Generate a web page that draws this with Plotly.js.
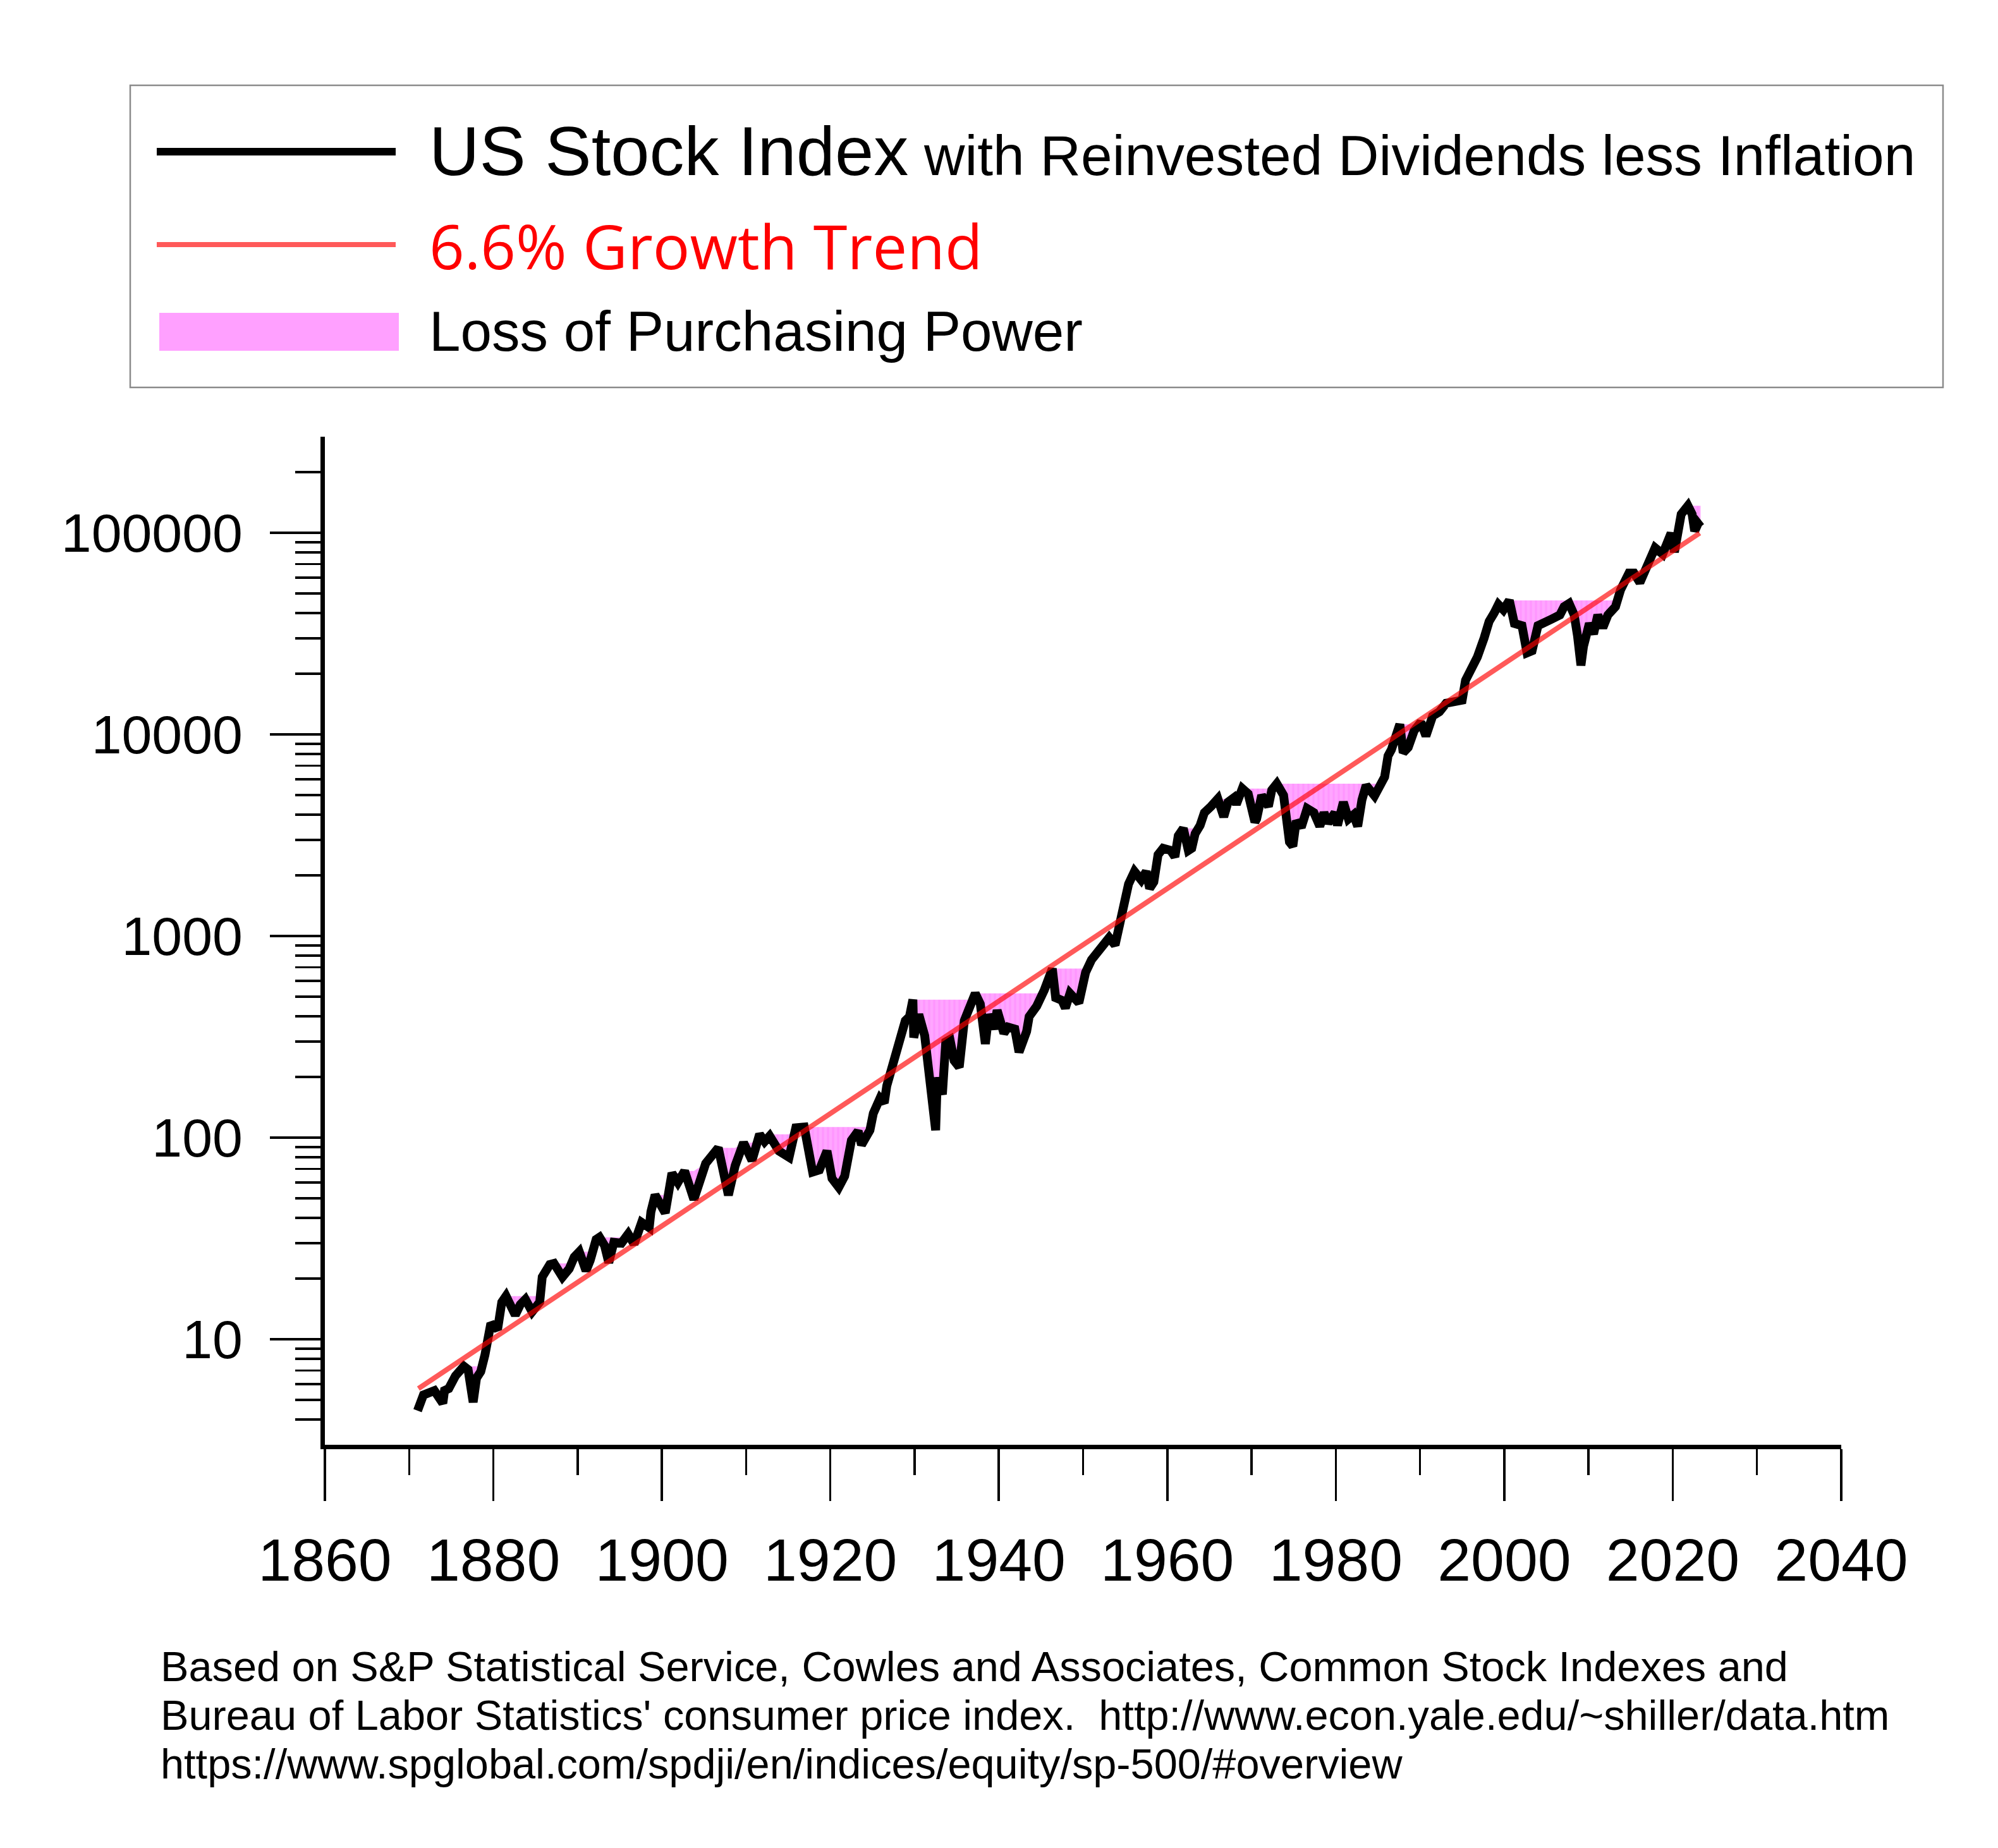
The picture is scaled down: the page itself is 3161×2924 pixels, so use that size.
<!DOCTYPE html>
<html>
<head>
<meta charset="utf-8">
<script src="https://cdn.plot.ly/plotly-3.0.1.min.js"></script>
<style>html,body{margin:0;padding:0;background:#ffffff;}</style>
</head>
<body>
<div id="chart" style="width:3161px;height:2924px;"></div>
<script>
// ---------------- DATA ----------------
const years = [
  1871.0,1871.5,1871.7,1873.0,1874.0,1874.2,1874.7,1875.5,1876.5,1877.0,1877.6,1878.0,1878.5,1879.0,1879.5,1879.7,
  1880.5,1881.0,1881.5,1882.6,1883.2,1883.8,1884.6,1885.5,1885.8,1886.7,1887.2,1888.2,1889.0,1889.6,1890.2,1891.0,
  1891.5,1892.2,1892.6,1893.2,1893.7,1894.3,1895.2,1895.7,1896.0,1896.7,1897.6,1898.5,1898.7,1899.2,1900.4,1901.2,
  1901.9,1902.7,1903.8,1905.2,1906.7,1907.9,1908.7,1909.7,1910.7,1911.6,1912.2,1912.8,1913.9,1915.1,1915.9,1916.9,
  1917.9,1918.7,1919.6,1920.2,1921.0,1921.7,1922.5,1923.3,1923.7,1924.7,1925.1,1925.9,1926.4,1926.7,1927.5,1928.2,
  1928.9,1929.4,1929.8,1929.9,1930.5,1931.2,1931.5,1931.9,1932.5,1932.7,1933.3,1933.7,1934.2,1934.7,1935.3,1935.9,
  1936.4,1937.2,1937.8,1938.1,1938.4,1938.8,1939.4,1939.8,1940.6,1941.1,1941.9,1942.4,1943.3,1943.6,1944.5,1945.4,
  1945.9,1946.35,1946.75,1947.5,1947.9,1948.45,1949.5,1950.3,1951.0,1951.9,1953.1,1953.8,1954.4,1954.9,1955.4,1956.1,
  1956.9,1957.5,1957.9,1958.4,1958.9,1959.5,1960.4,1960.9,1961.3,1961.9,1962.5,1962.9,1963.3,1963.9,1964.4,1965.2,
  1966.0,1966.7,1967.2,1967.9,1968.2,1968.9,1969.6,1970.4,1970.6,1971.2,1972.0,1972.4,1973.0,1973.8,1974.5,1974.9,
  1975.3,1975.9,1976.6,1977.4,1978.1,1978.6,1979.1,1979.9,1980.2,1980.9,1981.5,1982.1,1982.6,1983.1,1983.6,1984.6,
  1985.3,1985.8,1986.2,1986.6,1987.6,1988.0,1988.6,1989.3,1990.1,1990.7,1991.5,1992.3,1993.1,1994.2,1995.0,1995.4,
  1996.1,1996.8,1997.6,1998.2,1998.8,1999.3,1999.9,2000.6,2001.2,2002.1,2002.7,2003.3,2004.0,2004.7,2005.6,2006.6,
  2007.1,2007.7,2008.3,2008.7,2009.1,2009.4,2010.1,2010.6,2011.1,2011.7,2012.3,2013.2,2013.8,2014.8,2015.4,2016.1,
  2016.7,2017.3,2017.9,2018.8,2019.3,2019.8,2020.2,2020.5,2021.0,2021.8,2022.3,2022.6,2023.0,2023.3
];
const indexValues = [
  4.43,4.93,5.3,5.57,4.82,5.57,5.70,6.59,7.35,7.08,4.88,6.43,6.92,8.38,10.4,12.0,
  11.2,15.3,16.4,13.2,14.9,15.8,13.7,15.3,20.4,23.5,23.8,20.4,22.4,25.6,27.2,21.9,
  24.7,31.3,32.1,29.2,24.0,30.3,30.0,32.9,33.3,29.7,38.0,35.8,42.9,52.0,42.4,66.8,
  60.0,68.4,49.4,74.5,89.1,51.9,72.6,94.6,77.1,104,95.7,102,85.9,80.0,112,113,
  67.6,69.3,86.0,62.8,56.8,64.5,97.0,108,92.2,109,132,157,149,181,241,285,
  381,399,484,314,409,321,253,172,109,199,164,299,307,241,224,381,
  440,520,461,307,292,409,346,429,330,354,346,266,337,399,450,540,
  646,690,495,480,440,520,467,661,763,841,983,903,1205,1496,1813,2093,
  1901,2093,1725,1857,2535,2728,2661,2477,3148,3421,2661,2728,3222,3548,4098,4406,
  4797,3910,4619,4853,4510,5395,5078,3680,3812,4990,4406,5300,5700,5000,2932,2793,
  3724,3467,4295,4098,3508,4098,3640,4098,3548,4619,3812,4000,3508,4732,5598,4966,
  5598,6166,7834,8414,11240,8128,8630,10450,11510,9840,12360,12970,14290,14630,14800,18580,
  20940,24200,30060,36390,40090,44130,41560,46240,35560,34670,25420,26020,34670,35560,37330,39170,
  43050,44670,39170,30780,22030,27350,35560,31550,39170,33880,39170,43050,52120,63240,63240,56750,
  64730,74800,84330,78520,88510,99770,80350,99770,123800,136400,123800,102100,111200,107200
];
const trendYears = [1871.1, 2023.2];
const trendValues = [5.7, 99800];

const xTickVals = [1860,1880,1900,1920,1940,1960,1980,2000,2020,2040];
const xTickText = ['1860','1880','1900','1920','1940','1960','1980','2000','2020','2040'];
const yTickVals = [10,100,1000,10000,100000];
const yTickText = ['10','100','1000','10000','100000'];

const seriesNames = ['US Stock Index', ' with Reinvested Dividends less Inflation', '6.6% Growth Trend', 'Loss of Purchasing Power'];
const footnoteLines = [
  "Based on S&P Statistical Service, Cowles and Associates, Common Stock Indexes and",
  "Bureau of Labor Statistics' consumer price index.  http://www.econ.yale.edu/~shiller/data.htm",
  "https://www.spglobal.com/spdji/en/indices/equity/sp-500/#overview"
];

// ---------------- STYLE ----------------
const ARIAL = 'Arial, "Liberation Sans", sans-serif';
const PINK = 'rgb(255,160,255)';
const TREND = 'rgba(255,0,0,0.65)';

// running peak of the index (top of the "loss of purchasing power" band)
const runningPeak = [];
indexValues.forEach((v, i) => runningPeak.push(i === 0 ? v : Math.max(v, runningPeak[i - 1])));

// minor ticks for the log axis
const yMinor = [];
for (let d = 1; d <= 100000; d *= 10) {
  for (let m = 2; m <= 9; m++) {
    const v = m * d;
    if (v > 3 && v < 300000) yMinor.push(v);
  }
}

// plot area in page pixels
const M = {l: 514, r: 248, t: 691, b: 638};
const W = 3161, H = 2924;
const PW = W - M.l - M.r, PH = H - M.t - M.b;
const px = X => (X - M.l) / PW;
const py = Y => (H - M.b - Y) / PH;

const traces = [
  {x: years, y: indexValues, type: 'scatter', mode: 'lines', line: {width: 0, color: 'rgba(0,0,0,0)'},
   showlegend: false, hoverinfo: 'skip'},
  {x: years, y: runningPeak, type: 'scatter', mode: 'lines', line: {width: 0, color: 'rgba(0,0,0,0)'},
   fill: 'tonexty', fillcolor: PINK,
   fillpattern: {shape: '|', bgcolor: 'rgb(255,165,255)', fgcolor: 'rgb(255,150,255)', size: 8, solidity: 0.4},
   name: seriesNames[3], showlegend: false, hoverinfo: 'skip'},
  {x: years, y: indexValues, type: 'scatter', mode: 'lines', name: seriesNames[0],
   line: {color: '#000000', width: 14}, showlegend: false},
  {x: trendYears, y: trendValues, type: 'scatter', mode: 'lines', name: seriesNames[2],
   line: {color: TREND, width: 8}, showlegend: false}
];

const shapes = [
  {type: 'rect', xref: 'paper', yref: 'paper', x0: px(206), x1: px(3074), y0: py(613), y1: py(135),
   line: {color: '#8a8a8a', width: 2.5}, fillcolor: 'rgba(0,0,0,0)'},
  {type: 'line', xref: 'paper', yref: 'paper', x0: px(248), x1: px(626), y0: py(240), y1: py(240),
   line: {color: '#000000', width: 12}},
  {type: 'line', xref: 'paper', yref: 'paper', x0: px(248), x1: px(626), y0: py(387), y1: py(387),
   line: {color: TREND, width: 8}},
  {type: 'rect', xref: 'paper', yref: 'paper', x0: px(252), x1: px(631), y0: py(555), y1: py(495),
   line: {width: 0}, fillcolor: PINK}
];

const annotations = [
  {xref: 'paper', yref: 'paper', x: px(677), y: py(239), xanchor: 'left', yanchor: 'middle', showarrow: false,
   text: seriesNames[0] + '<span style="font-size:89.3px">' + seriesNames[1] + '</span>',
   font: {family: ARIAL, size: 110, color: '#000000'}},
  {xref: 'paper', yref: 'paper', x: px(677), y: py(389), xanchor: 'left', yanchor: 'middle', showarrow: false,
   text: seriesNames[2], font: {family: '"Open Sans", sans-serif', size: 97.5, color: '#ff0000'}},
  {xref: 'paper', yref: 'paper', x: px(677), y: py(524), xanchor: 'left', yanchor: 'middle', showarrow: false,
   text: seriesNames[3], font: {family: ARIAL, size: 89, color: '#000000'}}
];
const footY = [2637, 2714, 2791];
footnoteLines.forEach((t, i) => annotations.push({
  xref: 'paper', yref: 'paper', x: px(252), y: py(footY[i]), xanchor: 'left', yanchor: 'middle', showarrow: false,
  text: t, font: {family: ARIAL, size: 66.7, color: '#000000'}
}));

const layout = {
  width: W, height: H,
  margin: M,
  paper_bgcolor: '#ffffff', plot_bgcolor: '#ffffff',
  showlegend: false,
  font: {family: ARIAL, color: '#000000'},
  xaxis: {
    range: [1860, 2040], tickmode: 'array', tickvals: xTickVals, ticktext: xTickText,
    ticks: 'outside', ticklen: 82, tickwidth: 3.5, tickcolor: '#000000',
    showline: true, linewidth: 7, linecolor: '#000000', showgrid: false, zeroline: false,
    tickfont: {family: ARIAL, size: 95, color: '#000000'}, ticklabelstandoff: 12,
    minor: {dtick: 10, tick0: 1860, ticks: 'outside', ticklen: 41, tickwidth: 3.5, tickcolor: '#000000', showgrid: false}
  },
  yaxis: {
    type: 'log', range: [Math.log10(3), Math.log10(300000)],
    tickmode: 'array', tickvals: yTickVals, ticktext: yTickText,
    ticks: 'outside', ticklen: 80, tickwidth: 3.5, tickcolor: '#000000',
    showline: true, linewidth: 7, linecolor: '#000000', showgrid: false, zeroline: false,
    tickfont: {family: ARIAL, size: 86, color: '#000000'}, ticklabelstandoff: 26,
    minor: {tickmode: 'array', tickvals: yMinor, ticks: 'outside', ticklen: 40, tickwidth: 3.5, tickcolor: '#000000', showgrid: false}
  },
  shapes: shapes,
  annotations: annotations
};

Plotly.newPlot('chart', traces, layout, {displayModeBar: false, staticPlot: true});
</script>
</body>
</html>
